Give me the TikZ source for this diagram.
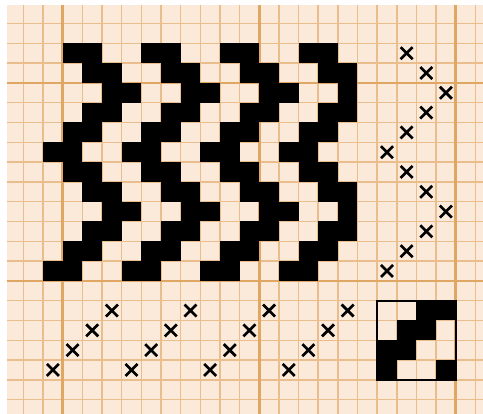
\documentclass[tikz,border=0pt]{standalone}
\usepackage{tikz}
\usetikzlibrary{shapes.misc}
\definecolor{papier}{RGB}{251, 234, 218}
\definecolor{linie}{RGB}{233, 190, 140}
\definecolor{linieDick}{RGB}{224, 166, 100}
\begin{document}
\begin{tikzpicture}[kreuz/.style={draw, cross out, minimum size=9pt, inner sep=0pt, outer sep=0pt, line width=2pt},
			duenn/.style={color=linie, line width=1.1pt},
			dick/.style={color=linieDick, line width=1.9pt},
			x=14.74pt, y=-14.85pt]
			%Bildbereich
			\useasboundingbox (-0.193,-0.187) rectangle (24.387,20.72);
			\fill[white] (-0.193,-0.187) rectangle (24.387,20.72);
			\fill[papier] (0.163,0.066) rectangle (24.387,20.72);
			%Raster zeichnen
			\foreach \x in {1,...,24} \draw[duenn] (\x,0.066) -- (\x,20.72);
			\foreach \y in {1,...,20} \draw[duenn] (0.163,\y) -- (24.387,\y);
			\foreach \x in {3,13,23} \draw[dick] (\x,0.066) -- (\x,20.72);
			\foreach \y in {4,14} \draw[dick] (0.163,\y) -- (24.387,\y);
			%Gewebebild (Reihe/Tritt), Randfaden bei Tritt 4 bleibt leer
			\foreach \r/\t in {2/2,3/3,4/4,5/3,6/2,7/1,8/2,9/3,10/4,11/3,12/2,13/1} {
				\foreach \c in {2,...,17} {
					\pgfmathtruncatemacro\s{mod(\c-2,4)+1}
					\pgfmathtruncatemacro\d{mod(\s-\t+4,4)}
					\pgfmathtruncatemacro\rand{(\c==2)&&(\t==4)}
					\ifnum\d<2 \ifnum\rand=0 \fill[black] (\c,\r) rectangle (\c+1,\r+1); \fi\fi
				}
				%Trittfolge
				\node[kreuz] (tritt\r) at (18.5+\t,\r+.5) {};
			}
			%Einzug
			\foreach \c in {2,...,17} {
				\pgfmathtruncatemacro\s{mod(\c-2,4)+1}
				\node[kreuz] (einzug\c) at (\c+.5,18.5-\s+1) {};
			}
			%Anschnuerung
			\foreach \t in {1,...,4} {
				\foreach \s in {1,...,4} {
					\pgfmathtruncatemacro\d{mod(\s-\t+4,4)}
					\ifnum\d<2 \fill[black] (18+\t,19-\s) rectangle (19+\t,20-\s); \fi
				}
			}
			\draw[line width=1.6pt] (19,15) rectangle (23,19);
		\end{tikzpicture}
\end{document}
